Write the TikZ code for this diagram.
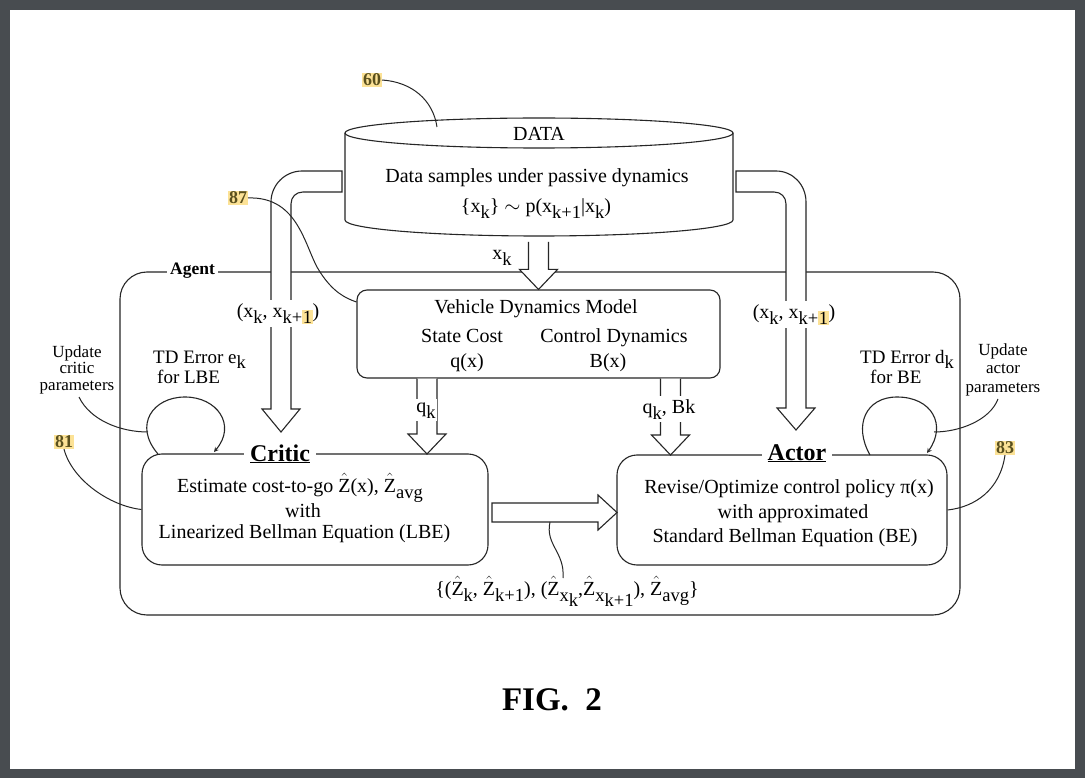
\documentclass[tikz,border=0pt]{standalone}
\usepackage{fontspec}
\setmainfont{Liberation Serif}
\usepackage{tikz}
\usetikzlibrary{arrows,calc}

\definecolor{hlyellow}{RGB}{252,226,150}
\definecolor{tagtext}{RGB}{90,80,30}
\definecolor{framegray}{RGB}{72,76,80}
\newcommand{\lo}[1]{\raisebox{-0.3em}{\fontsize{18.5}{18.5}\selectfont #1}}
\newcommand{\hl}[1]{{\setlength{\fboxsep}{0.5pt}\colorbox{hlyellow}{#1}}}
\newcommand{\Zh}{$\hat{\mathrm{Z}}$}
\newcommand{\fatdown}[2]{%
  \draw[pipe] let \p1=#1, \p2=#2 in
    (\x2-10pt,\y1) -- (\x2-10pt,\y2+20pt) -- (\x2-19pt,\y2+20pt) -- (\x2,\y2)
    -- (\x2+19pt,\y2+20pt) -- (\x2+10pt,\y2+20pt) -- (\x2+10pt,\y1);}

\begin{document}
\begin{tikzpicture}[x=1pt,y=-1pt,
  line/.style={line width=1.1pt, draw=black!85},
  pipe/.style={line, fill=white},
  box/.style={line, fill=white, rounded corners=20pt, inner sep=0pt},
  txt/.style={inner sep=0pt, font=\fontsize{20}{22}\selectfont},
  tdtxt/.style={inner sep=0pt, font=\fontsize{19}{20}\selectfont},
  note/.style={inner sep=0pt, font=\fontsize{17}{17}\selectfont},
  tag/.style={fill=hlyellow, text=tagtext, inner sep=0.8pt, font=\fontsize{18}{18}\selectfont\bfseries},
  title/.style={fill=white, inner xsep=6pt, inner ysep=1pt, font=\fontsize{24}{24}\selectfont\bfseries},
  lead/.style={line width=1pt, draw=black!85},
  >=stealth]

% page
\fill[framegray] (0,0) rectangle (1085,778);
\fill[white] (10,10) rectangle (1075,769);

% agent frame
\node[box, rounded corners=27pt, minimum width=840pt, minimum height=343pt] (agent) at (540,443.5) {};
\node[fill=white, inner xsep=3pt, inner ysep=1pt, font=\fontsize{17.5}{18}\selectfont\bfseries, anchor=base] (agentlbl) at (192.5,275) {Agent};

% pipes out of the data store
\draw[pipe] (342,171) -- (302,171) .. controls (285,171) and (271,185) .. (271,202) -- (271,409) -- (262,409) -- (281,432) -- (300,409) -- (291,409) -- (291,204) .. controls (291,197) and (296,192) .. (303,192) -- (342,192) -- cycle;
\draw[pipe] (736,171) -- (776,171) .. controls (793,171) and (806,185) .. (806,202) -- (806,408) -- (815,408) -- (796,430) -- (777,408) -- (786,408) -- (786,204) .. controls (786,197) and (781,192) .. (774,192) -- (736,192) -- cycle;

% data store
\fill[white] (345,133) -- (345,220) arc[start angle=180, end angle=0, x radius=194, y radius=16] -- (733,133) -- cycle;
\draw[line] (345,133) -- (345,220) arc[start angle=180, end angle=0, x radius=194, y radius=16] -- (733,133);
\draw[line, fill=white] (539,133) ellipse [x radius=194, y radius=15];
\node[txt, anchor=base] (datatitle) at (539,141) {DATA};
\node[txt, anchor=base] (datadesc) at (537,183) {Data samples under passive dynamics};
\node[txt, anchor=base] (dataeq) at (536,213) {\{x\lo{k}\} $\sim$ p(x\lo{k+1}|x\lo{k})};

% vehicle model
\node[box, rounded corners=10pt, minimum width=363pt, minimum height=88pt] (vdm) at (538.5,334) {};
\node[txt, anchor=base] (vdmtitle) at (536,313) {Vehicle Dynamics Model};
\node[txt, anchor=base] (statecost) at (462,342) {State Cost};
\node[txt, anchor=base] (ctrldyn) at (614,342) {Control Dynamics};
\node[txt, anchor=base] (qx) at (467,367) {q(x)};
\node[txt, anchor=base] (bx) at (608,367) {B(x)};

% critic
\node[box, minimum width=346pt, minimum height=111pt] (critic) at (315,509.5) {};
\node[title, anchor=base] (criticlbl) at (280,461) {\underline{Critic}};
\node[txt, anchor=base] (critic1) at (300,492) {Estimate cost-to-go \Zh(x), \Zh\lo{avg}};
\node[txt, anchor=base] (critic2) at (303,517) {with};
\node[txt, anchor=base] (critic3) at (304.5,538) {Linearized Bellman Equation (LBE)};

% actor
\node[box, minimum width=330pt, minimum height=110pt] (actor) at (782,510) {};
\node[title, anchor=base] (actorlbl) at (797,460) {\underline{Actor}};
\node[txt, anchor=base] (actor1) at (789,493) {Revise/Optimize control policy π(x)};
\node[txt, anchor=base] (actor2) at (793,518) {with approximated};
\node[txt, anchor=base] (actor3) at (785,542) {Standard Bellman Equation (BE)};

% fat arrows
\coordinate (xsrc) at (538,242);
\fatdown{(xsrc)}{(vdm.north)}
\coordinate (qtip) at (427,454);
\fatdown{(vdm.south)}{(qtip)}
\coordinate (qbtip) at (670.5,455);
\fatdown{(vdm.south)}{(qbtip)}
\coordinate (ztail) at (492,512.5);
\coordinate (zhead) at (617,512.5);
\draw[pipe] let \p1=(ztail), \p2=(zhead) in
  (\x1,\y1+9.5pt) -- (\x2-19pt,\y1+9.5pt) -- (\x2-19pt,\y1+17.5pt) -- (\x2,\y2)
  -- (\x2-19pt,\y1-17.5pt) -- (\x2-19pt,\y1-9.5pt) -- (\x1,\y1-9.5pt) -- cycle;

% arrow labels
\node[txt, anchor=base] (xklbl) at (502,260) {x\lo{k}};
\node[txt, fill=white, inner xsep=1pt, inner ysep=3pt, anchor=base] (pairl) at (278,317) {(x\lo{k}, x\lo{k+\hl{1}})};
\node[txt, fill=white, inner xsep=1pt, inner ysep=3pt, anchor=base] (pairr) at (794,318) {(x\lo{k}, x\lo{k+\hl{1}})};
\node[txt, fill=white, inner xsep=1pt, inner ysep=3pt, anchor=base] (qklbl) at (426,412) {q\lo{k}};
\node[txt, fill=white, inner xsep=1pt, inner ysep=3pt, anchor=base] (qbklbl) at (669,413) {q\lo{k}, Bk};
\node[txt, anchor=base] (zset) at (567,595) {\{(\Zh\lo{k}, \Zh\lo{k+1}), (\Zh\lo{x\lo{k}},\Zh\lo{x\lo{k+1}}), \Zh\lo{avg}\}};
\draw[lead] (550,522) .. controls (545,545) and (565,552) .. (563,578);

% update loops
\draw[line,->] (158,454) .. controls (133,425) and (153,397) .. (185,397) .. controls (217,397) and (237,425) .. (214,452);
\draw[line,->] (870,455) .. controls (853,425) and (866,397) .. (897,397) .. controls (932,397) and (947,425) .. (927,453);
\node[tdtxt, anchor=base west] (tde) at (153,363) {TD Error e\lo{k}};
\node[tdtxt, anchor=base west] (tdelbe) at (157,383) {for LBE};
\node[tdtxt, anchor=base west] (tdd) at (860,363) {TD Error d\lo{k}};
\node[tdtxt, anchor=base west] (tddbe) at (870,383) {for BE};

\node[note, anchor=base] (upc1) at (77,357) {Update};
\node[note, anchor=base] (upc2) at (77,373) {critic};
\node[note, anchor=base] (upc3) at (77,390) {parameters};
\node[note, anchor=base] (upa1) at (1003,355) {Update};
\node[note, anchor=base] (upa2) at (1003,373) {actor};
\node[note, anchor=base] (upa3) at (1003,392) {parameters};
\draw[lead] (79,397) .. controls (90,420) and (120,432) .. (148,432);
\draw[lead] (998,399) .. controls (990,420) and (960,432) .. (934,432);

% reference numerals
\node[tag] (t60) at (372,80) {60};
\node[tag] (t87) at (238,198) {87};
\node[tag] (t81) at (64,442) {81};
\node[tag] (t83) at (1005,448) {83};
\draw[lead] (t60.east) .. controls (412,82) and (433,100) .. (437,127);
\draw[lead] (t87.east) .. controls (300,196) and (305,250) .. (320,272) .. controls (333,292) and (345,298) .. (vdm.west |- 0,302);
\draw[lead] (t81.south) .. controls (72,480) and (110,506) .. (critic.west);
\draw[lead] (t83.south) .. controls (1000,490) and (975,507) .. (actor.east);

\node[inner sep=0pt, font=\fontsize{33}{33}\selectfont\bfseries, anchor=base] (fig) at (552,710) {FIG.\ \ 2};

\end{tikzpicture}
\end{document}
